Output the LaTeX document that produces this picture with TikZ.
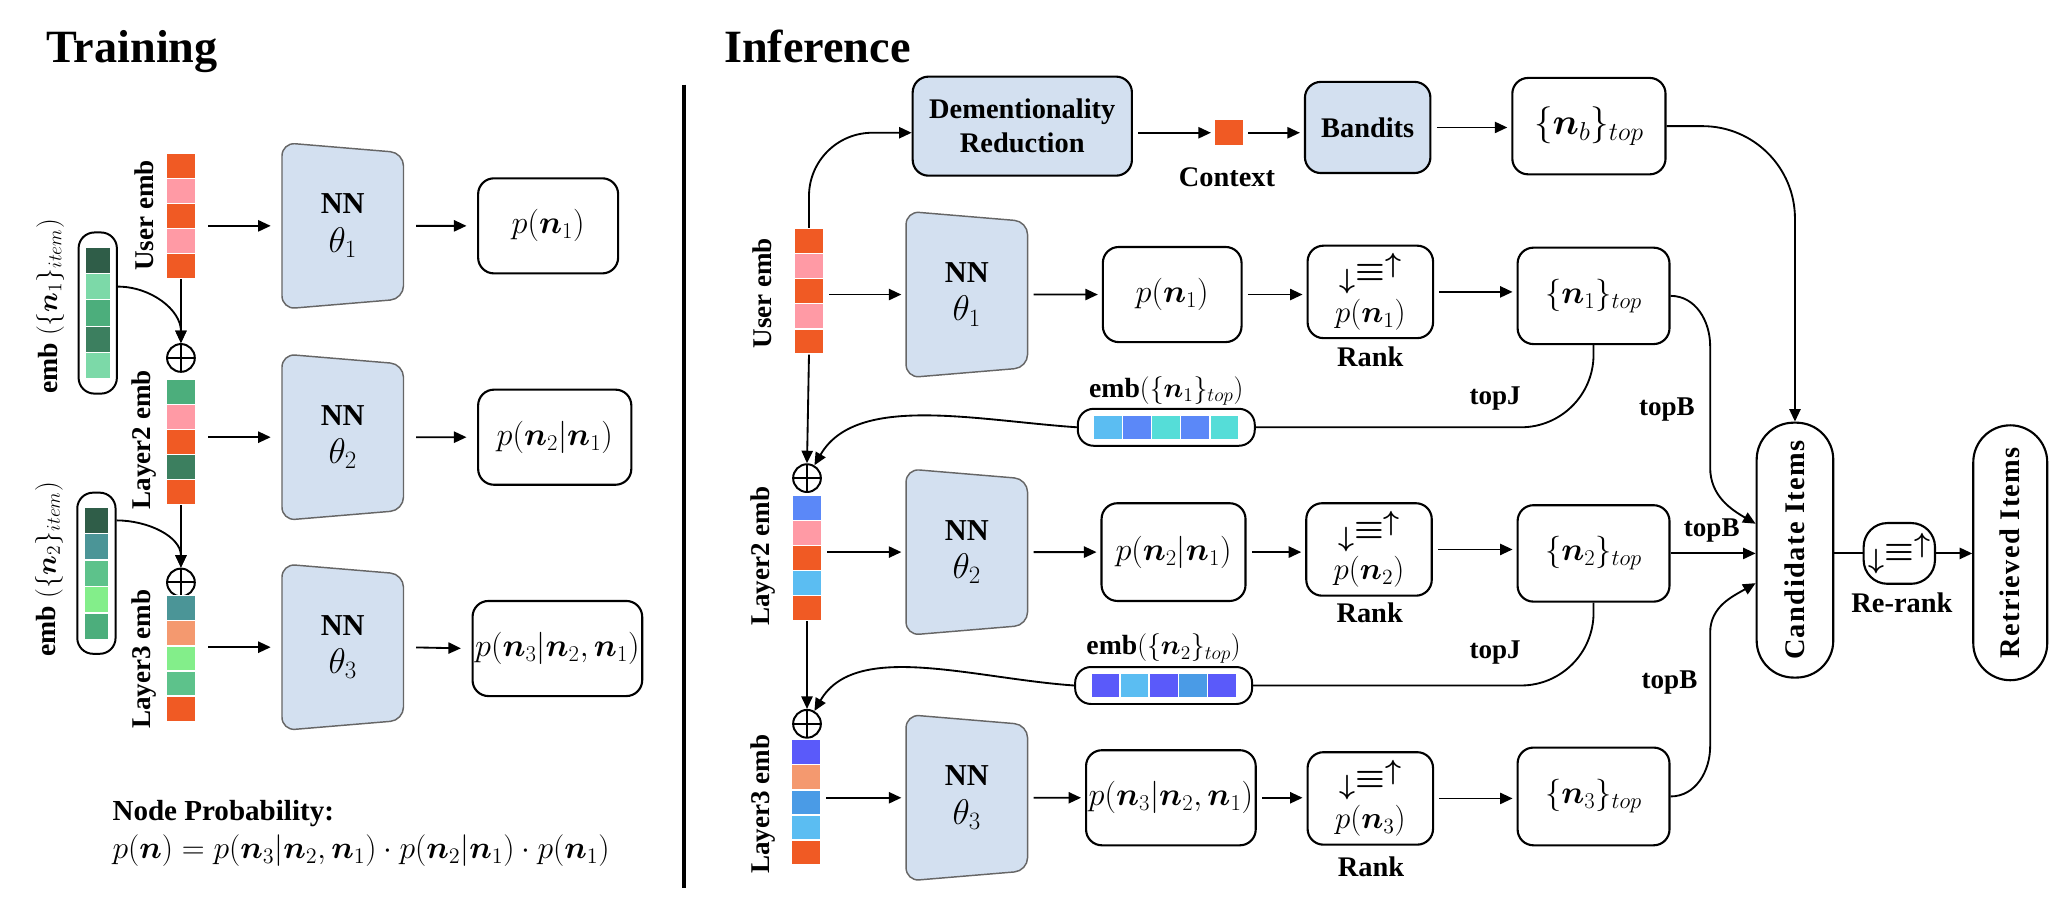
\documentclass[tikz,border=0pt]{standalone}
\usepackage{fix-cm}
\usepackage{amsmath}
\usepackage[no-math]{fontspec}
\setmainfont{Liberation Serif}
\usetikzlibrary{arrows.meta,shapes.geometric,fit}

% colours of the boxes and the embedding cells
\definecolor{nnblue}{HTML}{D3E0F0}
\definecolor{embOr}{HTML}{F05A24}
\definecolor{embPk}{HTML}{FF9AA5}
\definecolor{embSal}{HTML}{F4996F}
\definecolor{gnDark}{HTML}{2F5D48}
\definecolor{gnPale}{HTML}{7CD9A8}
\definecolor{gnMid}{HTML}{4CAE7C}
\definecolor{gnDeep}{HTML}{3C7F5F}
\definecolor{gnTeal}{HTML}{4B9597}
\definecolor{gnSoft}{HTML}{5DC28B}
\definecolor{gnLime}{HTML}{83EE8A}
\definecolor{bluSky}{HTML}{5BBDF2}
\definecolor{bluMid}{HTML}{5B88F8}
\definecolor{bluTurq}{HTML}{55DDD8}
\definecolor{bluInd}{HTML}{5A5AFA}
\definecolor{bluSea}{HTML}{4A9BE6}

\newcommand{\rankicon}{{\fontsize{21}{22}\selectfont\raisebox{-.28em}{$\boldsymbol{\downarrow}$}\scalebox{1.2}[1.15]{$\boldsymbol{\equiv}$}\raisebox{.28em}{$\boldsymbol{\uparrow}$}}}

\tikzset{
  title/.style={font=\fontsize{35}{40}\selectfont\bfseries, inner sep=0pt},
  lbl/.style={font=\fontsize{21.5}{25}\selectfont\bfseries, inner sep=1pt},
  vlbl/.style={font=\fontsize{20.5}{24}\selectfont\bfseries, rotate=90, inner sep=1pt},
  mlbl/.style={font=\fontsize{21}{24}\selectfont, inner sep=1pt},
  cell/.style={draw=white, line width=1pt, minimum width=22pt, minimum height=19pt, inner sep=0pt},
  itemcell/.style={cell, minimum width=19pt, minimum height=20pt},
  capsule/.style={draw, line width=1.5pt, rounded corners=12pt, inner sep=0pt},
  nnbox/.style={trapezium, shape border rotate=270, trapezium angle=77,
    trapezium stretches body, draw=black!60, fill=nnblue, line width=1.1pt,
    rounded corners=10pt, minimum width=126pt, minimum height=92pt,
    align=center, inner sep=0pt, font=\fontsize{23}{26}\selectfont\bfseries},
  pbox/.style={draw, line width=1.6pt, rounded corners=12pt, minimum height=72pt,
    inner sep=2pt, font=\fontsize{24.5}{28}\selectfont},
  bluebox/.style={pbox, fill=nnblue, align=center, font=\fontsize{21.5}{26}\selectfont\bfseries},
  rankbox/.style={pbox, minimum width=95pt, minimum height=70pt, align=center,
    font=\fontsize{23.5}{24}\selectfont},
  listbox/.style={draw, line width=1.6pt, rounded corners=28pt, minimum width=58pt,
    minimum height=193pt, inner sep=0pt,
    font=\fontsize{21.5}{25}\selectfont\bfseries\addfontfeatures{LetterSpace=5}},
  plus/.style={circle, draw, line width=1.5pt, minimum size=21pt, inner sep=0pt,
    path picture={\draw[line width=1.5pt]
      (path picture bounding box.north) -- (path picture bounding box.south)
      (path picture bounding box.west) -- (path picture bounding box.east);}},
  flow/.style={line width=1.4pt, -{Triangle[length=9.5pt,width=8.5pt]}},
  link/.style={line width=1.4pt},
  gap/.style={shorten <=9pt, shorten >=8pt},
}

\begin{document}
\begin{tikzpicture}[x=1pt, y=1pt]
  \useasboundingbox (0,0) rectangle (1568,-691);

  % ---------------- training ----------------
  \node[title, anchor=base west] (trainT) at (35,-47) {Training};

  \foreach \c [count=\i] in {embOr,embPk,embOr,embPk,embOr}
    \node[cell, fill=\c] (tu\i) at (137,-106.5-19*\i) {};
  \node[vlbl] (tuL) at (109,-163) {User emb};
  \node[nnbox] (tnA) at (259.5,-171) {NN\\[3pt]{\fontsize{27}{30}\selectfont$\theta_1$}};
  \node[pbox, minimum width=106pt] (tpA) at (415,-171) {$p(\boldsymbol{n}_1)$};

  \foreach \c [count=\i] in {gnDark,gnPale,gnMid,gnDeep,gnPale}
    \node[itemcell, fill=\c] (ta\i) at (74,-177-20*\i) {};
  \node[capsule, inner xsep=4.5pt, inner ysep=10.5pt, fit=(ta1)(ta5)] (tembA) {};
  \node[mlbl, rotate=90] (tembAL) at (38,-232) {\textbf{emb} $(\{\boldsymbol{n}_1\}_{item})$};
  \node[plus] (tplA) at (137,-271) {};

  \foreach \c [count=\i] in {gnMid,embPk,embOr,gnDeep,embOr}
    \node[cell, fill=\c] (tl\i) at (137,-277.5-19*\i) {};
  \node[vlbl] (tlL) at (109,-333) {Layer2 emb};
  \node[nnbox] (tnB) at (259.5,-331) {NN\\[3pt]{\fontsize{27}{30}\selectfont$\theta_2$}};
  \node[pbox, minimum width=116pt] (tpB) at (420,-331) {$p(\boldsymbol{n}_2|\boldsymbol{n}_1)$};

  \foreach \c [count=\i] in {gnDark,gnTeal,gnSoft,gnLime,gnMid}
    \node[itemcell, fill=\c] (tb\i) at (73,-374-20*\i) {};
  \node[capsule, inner xsep=4.5pt, inner ysep=10.5pt, fit=(tb1)(tb5)] (tembB) {};
  \node[mlbl, rotate=90] (tembBL) at (37,-431) {\textbf{emb} $(\{\boldsymbol{n}_2\}_{item})$};
  \node[plus] (tplB) at (137,-441) {};

  \foreach \c [count=\i] in {gnTeal,embSal,gnLime,gnSoft,embOr}
    \node[cell, fill=\c] (tm\i) at (137,-441.5-19*\i) {};
  \node[vlbl] (tmL) at (109,-499) {Layer3 emb};
  \node[nnbox] (tnC) at (259.5,-490) {NN\\[3pt]{\fontsize{27}{30}\selectfont$\theta_3$}};
  \node[pbox, minimum width=124pt] (tpC) at (422,-491) {$p(\boldsymbol{n}_3|\boldsymbol{n}_2,\boldsymbol{n}_1)$};

  \node[lbl, anchor=base west, inner sep=0pt, font=\fontsize{22}{26}\selectfont\bfseries] (probT) at (85,-621) {Node Probability:};
  \node[anchor=base west, inner sep=0pt, font=\fontsize{24}{28}\selectfont] (probF) at (85,-650)
    {$p(\boldsymbol{n}) = p(\boldsymbol{n}_3|\boldsymbol{n}_2,\boldsymbol{n}_1)\cdot p(\boldsymbol{n}_2|\boldsymbol{n}_1)\cdot p(\boldsymbol{n}_1)$};

  \begin{scope}[flow, gap]
    \draw (tnA.west -| tu3.east) -- (tnA.west);
    \draw (tnA.east) -- (tpA.west);
    \draw (tnB.west -| tl3.east) -- (tnB.west);
    \draw (tnB.east) -- (tpB.west);
    \draw (tnC.west -| tm3.east) -- (tnC.west);
    \draw (tnC.east) -- (tpC.west);
  \end{scope}
  \begin{scope}[flow]
    \draw (tu5.south) -- (tplA.north);
    \draw (tembA.east |- ta2.east) to[out=0,in=90] (tplA.north);
    \draw (tl5.south) -- (tplB.north);
    \draw (tembB.east |- tb1.east) to[out=0,in=90] (tplB.north);
  \end{scope}

  % divider
  \coordinate (divT) at (518,-64);
  \coordinate (divB) at (518,-672);
  \draw[line width=2.6pt] (divT) -- (divB);

  % ---------------- inference ----------------
  \node[title, anchor=base west] (infT) at (548,-47) {Inference};

  \node[bluebox, minimum width=166pt, minimum height=75pt] (dred) at (774,-95.5) {Dementionality\\Reduction};
  \node[fill=embOr, minimum width=21pt, minimum height=19pt, inner sep=0pt] (ctx) at (930.5,-100.5) {};
  \node[lbl] (ctxL) at (929,-134) {Context};
  \node[bluebox, minimum width=95pt, minimum height=69pt] (band) at (1035.5,-96.5) {Bandits};
  \node[pbox, minimum width=116pt, minimum height=73pt, font=\fontsize{28}{30}\selectfont] (nbtop) at (1203,-95.5) {$\{\boldsymbol{n}_b\}_{top}$};

  \foreach \c [count=\i] in {embOr,embPk,embOr,embPk,embOr}
    \node[cell, fill=\c] (iu\i) at (612.5,-163.5-19*\i) {};
  \node[vlbl] (iuL) at (577,-222) {User emb};
  \node[nnbox] (inA) at (732,-223) {NN\\[3pt]{\fontsize{27}{30}\selectfont$\theta_1$}};
  \node[pbox, minimum width=105pt] (ipA) at (887.5,-223) {$p(\boldsymbol{n}_1)$};
  \node[rankbox] (rkA) at (1037.5,-221) {\rankicon\\[3pt]$p(\boldsymbol{n}_1)$};
  \node[lbl] (rkAL) at (1037.5,-270) {Rank};
  \node[pbox, minimum width=115pt, minimum height=73pt] (ntA) at (1206.5,-224) {$\{\boldsymbol{n}_1\}_{top}$};

  \foreach \c [count=\i] in {bluSky,bluMid,bluTurq,bluMid,bluTurq}
    \node[cell, minimum height=18pt, fill=\c] (ie\i) at (817+22*\i,-323.5) {};
  \node[capsule, inner xsep=11.5pt, inner ysep=4.5pt, fit=(ie1)(ie5)] (iembA) {};
  \node[mlbl] (iembAL) at (883,-296) {\textbf{emb}$(\{\boldsymbol{n}_1\}_{top})$};
  \node[plus] (iplA) at (611,-362) {};

  \foreach \c [count=\i] in {bluMid,embPk,embOr,bluSky,embOr}
    \node[cell, fill=\c] (il\i) at (611,-365.5-19*\i) {};
  \node[vlbl] (ilL) at (578,-421) {Layer2 emb};
  \node[nnbox] (inB) at (732,-418) {NN\\[3pt]{\fontsize{27}{30}\selectfont$\theta_2$}};
  \node[pbox, minimum width=109pt, minimum height=74pt] (ipB) at (888.5,-418) {$p(\boldsymbol{n}_2|\boldsymbol{n}_1)$};
  \node[rankbox] (rkB) at (1036.5,-416) {\rankicon\\[3pt]$p(\boldsymbol{n}_2)$};
  \node[lbl] (rkBL) at (1037,-464) {Rank};
  \node[pbox, minimum width=115pt, minimum height=73pt] (ntB) at (1206.5,-419) {$\{\boldsymbol{n}_2\}_{top}$};

  \foreach \c [count=\i] in {bluInd,bluSky,bluInd,bluSea,bluInd}
    \node[cell, minimum height=18pt, fill=\c] (if\i) at (815+22*\i,-519) {};
  \node[capsule, inner xsep=11.5pt, inner ysep=4.5pt, fit=(if1)(if5)] (iembB) {};
  \node[mlbl] (iembBL) at (881,-491) {\textbf{emb}$(\{\boldsymbol{n}_2\}_{top})$};
  \node[plus] (iplB) at (611,-548) {};

  \foreach \c [count=\i] in {bluInd,embSal,bluSea,bluSky,embOr}
    \node[cell, fill=\c] (im\i) at (610,-550.5-19*\i) {};
  \node[vlbl] (imL) at (578,-609) {Layer3 emb};
  \node[nnbox] (inC) at (732,-604) {NN\\[3pt]{\fontsize{27}{30}\selectfont$\theta_3$}};
  \node[pbox, minimum width=121pt] (ipC) at (886.5,-604) {$p(\boldsymbol{n}_3|\boldsymbol{n}_2,\boldsymbol{n}_1)$};
  \node[rankbox] (rkC) at (1037.5,-604.5) {\rankicon\\[3pt]$p(\boldsymbol{n}_3)$};
  \node[lbl] (rkCL) at (1038,-656) {Rank};
  \node[pbox, minimum width=115pt, minimum height=74pt] (ntC) at (1206.5,-603) {$\{\boldsymbol{n}_3\}_{top}$};

  \node[listbox] (cand) at (1359,-416.5) {\rotatebox{90}{Candidate Items}};
  \node[pbox, minimum width=54pt, minimum height=46pt, rounded corners=18pt, inner sep=0pt] (rrk) at (1438,-419) {\rankicon};
  \node[lbl] (rrkL) at (1440,-456) {Re-rank};
  \node[listbox, minimum width=56pt] (retr) at (1522,-418.5) {\rotatebox{90}{Retrieved Items}};

  \node[lbl, font=\fontsize{20.5}{24}\selectfont\bfseries] (tjA) at (1132,-302) {topJ};
  \node[lbl, font=\fontsize{20.5}{24}\selectfont\bfseries] (tjB) at (1132,-494) {topJ};
  \node[lbl, font=\fontsize{20.5}{24}\selectfont\bfseries] (tbA) at (1262,-310) {topB};
  \node[lbl, font=\fontsize{20.5}{24}\selectfont\bfseries] (tbB) at (1296,-402) {topB};
  \node[lbl, font=\fontsize{20.5}{24}\selectfont\bfseries] (tbC) at (1264,-517) {topB};

  \begin{scope}[flow, shorten <=4pt, shorten >=3pt]
    \draw (dred.east |- ctx.west) -- (ctx.west);
    \draw (ctx.east) -- (ctx.east -| band.west);
    \draw (band.east) -- (band.east -| nbtop.west);
    \draw (inA.west -| iu3.east) -- (inA.west);
    \draw (inA.east) -- (ipA.west);
    \draw (ipA.east) -- (ipA.east -| rkA.west);
    \draw (rkA.east) -- (rkA.east -| ntA.west);
    \draw (inB.west -| il3.east) -- (inB.west);
    \draw (inB.east) -- (ipB.west);
    \draw (ipB.east) -- (ipB.east -| rkB.west);
    \draw (rkB.east) -- (rkB.east -| ntB.west);
    \draw (inC.west -| im3.east) -- (inC.west);
    \draw (inC.east) -- (ipC.west);
    \draw (ipC.east) -- (ipC.east -| rkC.west);
    \draw (rkC.east) -- (rkC.east -| ntC.west);
  \end{scope}
  \begin{scope}[flow]
    \draw[rounded corners=48pt] (iu1.north) |- ([yshift=-5pt]dred.west);
    \draw[rounded corners=70pt] (nbtop.east) -| (cand.north);
    \draw (iu5.south) -- (iplA.north);
    \draw (iembA.west) to[out=176,in=60,in looseness=0.8] (iplA.60);
    \draw (il5.south) -- (iplB.north);
    \draw (iembB.west) to[out=176,in=60,in looseness=0.8] (iplB.60);
    \draw (ntA.east) to[out=0,in=90] ++(30,-38) -- ++(0,-92)
      to[out=-90,in=150] ([yshift=20pt]cand.west);
    \draw (ntB.east) -- (ntB.east -| cand.west);
    \draw (ntC.east) to[out=0,in=-90] ++(30,38) -- ++(0,86)
      to[out=90,in=210] ([yshift=-25pt]cand.west);
    \draw (rrk.east) -- (rrk.east -| retr.west);
  \end{scope}
  \begin{scope}[link]
    \draw[rounded corners=55pt] (ntA.south) |- (iembA.east);
    \draw[rounded corners=55pt] (ntB.south) |- (iembB.east);
    \draw (cand.east |- rrk.west) -- (rrk.west);
  \end{scope}
\end{tikzpicture}
\end{document}
